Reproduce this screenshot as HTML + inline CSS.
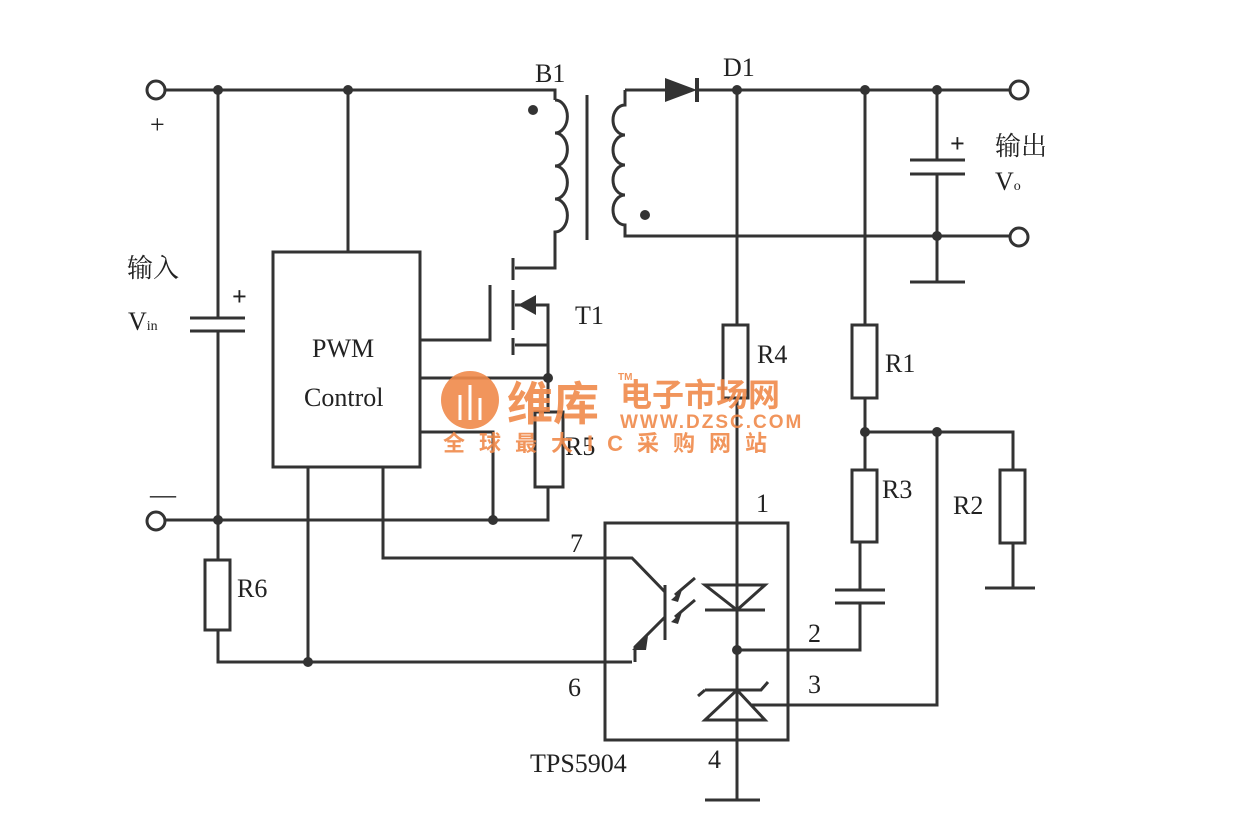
<!DOCTYPE html>
<html><head><meta charset="utf-8"><style>
body{margin:0;background:#fff}
svg{display:block}
text{font-family:"Liberation Serif","Noto Serif CJK SC",serif;fill:#222}
.w{font-family:"Liberation Sans","Noto Sans CJK SC",sans-serif;fill:#f08a4b;font-weight:bold}
</style></head><body>
<svg width="1233" height="821" viewBox="0 0 1233 821" xmlns="http://www.w3.org/2000/svg">
<g stroke="#333" stroke-width="3" fill="none">
<!-- input -->
<circle cx="156" cy="90" r="9"/>
<circle cx="156" cy="521" r="9"/>
<path d="M165 90H555V100"/>
<path d="M218 90V318M218 331V520"/>
<path d="M190 318H245M190 331H245"/>
<path d="M165 520H548V487"/>
<path d="M218 520V560M218 630V662H632"/>
<rect x="205" y="560" width="25" height="70"/>
<rect x="273" y="252" width="147" height="215"/>
<path d="M348 90V252"/>
<!-- primary coil -->
<path d="M555 100 a12 16 0 0 1 0 33 a12 16 0 0 1 0 33 a12 16 0 0 1 0 33 a12 16 0 0 1 0 33 V268H515"/>
<path d="M587 95V240"/>
<!-- mosfet -->
<path d="M513 258V280M513 290V330M513 338V355"/>
<path d="M490 285V340H420"/>
<path d="M515 305H548V345H515M548 345V412"/>
<path d="M420 378H548M420 432H493V520"/>
<rect x="535" y="412" width="28" height="75"/>
<!-- secondary -->
<path d="M625 90H665M697 90H1010"/>
<path d="M625 90V105 a12 15 0 0 0 0 30 a12 15 0 0 0 0 30 a12 15 0 0 0 0 30 a12 15 0 0 0 0 30 V236H1010"/>
<circle cx="1019" cy="90" r="9"/>
<circle cx="1019" cy="237" r="9"/>
<path d="M937 90V160M937 174V282M910 282H965"/>
<path d="M910 160H965M910 174H965"/>
<!-- R4 line -->
<path d="M737 90V325M737 398V800M705 800H760"/>
<rect x="723" y="325" width="25" height="73"/>
<rect x="605" y="523" width="183" height="217"/>
<path d="M705 585H765L737 610ZM705 610H765"/>
<path d="M737 650H860V603M835 603H885M835 590H885M860 590V542"/>
<path d="M705 720H765L737 690ZM705 690H761L768 682M705 690L698 696"/>
<path d="M937 432V705H752"/>
<!-- R1 R3 R2 -->
<path d="M865 90V325M865 398V470"/>
<rect x="852" y="325" width="25" height="73"/>
<rect x="852" y="470" width="25" height="72"/>
<path d="M865 432H1013V470M1013 543V588M985 588H1035"/>
<rect x="1000" y="470" width="25" height="73"/>
<!-- phototransistor -->
<path d="M383 467V558H632L665 592M665 585V640"/>
<path d="M665 617L635 647V662"/>
<path d="M308 467V662"/>
<path d="M695 578L675 595M695 600L675 617"/>
</g>
<g fill="#333">
<path d="M665 78L697 90L665 102Z"/>
<rect x="695" y="78" width="4" height="24"/>
<path d="M518 305L536 295V315Z"/>
<path d="M632 650L648 636L646 650Z"/>
<path d="M671 600L682 590L678 602Z"/>
<path d="M671 622L682 612L678 624Z"/>
<g>
<circle cx="218" cy="90" r="5"/><circle cx="348" cy="90" r="5"/><circle cx="218" cy="520" r="5"/><circle cx="493" cy="520" r="5"/>
<circle cx="308" cy="662" r="5"/><circle cx="548" cy="378" r="5"/><circle cx="533" cy="110" r="5"/><circle cx="645" cy="215" r="5"/>
<circle cx="737" cy="90" r="5"/><circle cx="865" cy="90" r="5"/><circle cx="937" cy="90" r="5"/><circle cx="937" cy="236" r="5"/>
<circle cx="865" cy="432" r="5"/><circle cx="937" cy="432" r="5"/><circle cx="737" cy="650" r="5"/>
</g>
</g>
<g font-size="26">
<text x="150" y="133">+</text>
<text x="150" y="503">—</text>
<text x="232" y="305" font-weight="bold">+</text>
<text x="950" y="152" font-weight="bold">+</text>
<text x="127" y="277">输入</text>
<text x="128" y="330">V<tspan font-size="14">in</tspan></text>
<text x="312" y="357">PWM</text>
<text x="304" y="406">Control</text>
<text x="535" y="82">B1</text>
<text x="723" y="76">D1</text>
<text x="575" y="324">T1</text>
<text x="757" y="363">R4</text>
<text x="565" y="455">R5</text>
<text x="885" y="372">R1</text>
<text x="882" y="498">R3</text>
<text x="953" y="514">R2</text>
<text x="237" y="597">R6</text>
<text x="995" y="155">输出</text>
<text x="995" y="190">V<tspan font-size="14">o</tspan></text>
<text x="756" y="512">1</text>
<text x="570" y="552">7</text>
<text x="808" y="642">2</text>
<text x="808" y="693">3</text>
<text x="568" y="696">6</text>
<text x="708" y="768">4</text>
<text x="530" y="772">TPS5904</text>
</g>
<!-- watermark -->
<g opacity="0.9">
<circle cx="470" cy="400" r="29" fill="#f08a4b"/>
<path d="M460 420V395M470 420V385M480 420V398" stroke="#fff" stroke-width="3"/>
<text x="507" y="420" class="w" font-size="46">维库</text>
<text x="620" y="406" class="w" font-size="32">电子市场网</text>
<text x="618" y="380" class="w" font-size="10">TM</text>
<text x="620" y="428" class="w" font-size="19" letter-spacing="2">WWW.DZSC.COM</text>
<text x="443" y="451" class="w" font-size="22" font-weight="normal" letter-spacing="14">全球最大IC采购网站</text>
</g>
</svg>
</body></html>
